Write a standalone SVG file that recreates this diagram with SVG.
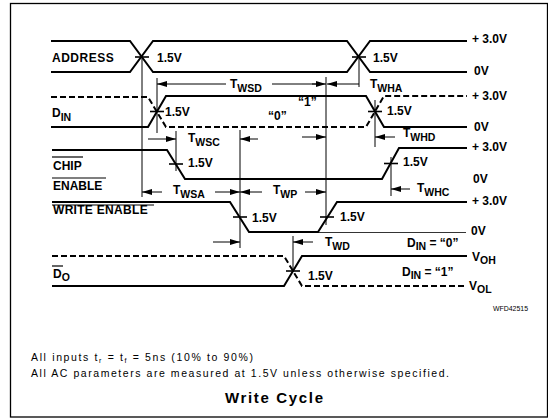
<svg xmlns="http://www.w3.org/2000/svg" width="548" height="420" viewBox="0 0 548 420">
<defs>
<marker id="ah" viewBox="0 0 10 6" refX="10" refY="3" markerWidth="10" markerHeight="6" markerUnits="userSpaceOnUse" orient="auto-start-reverse">
<path d="M0,0 L10,3 L0,6 Z" fill="#000"/>
</marker>
</defs>
<style>
text{font-family:"Liberation Sans",Arial,sans-serif;fill:#000}
.lb{font-weight:bold;font-size:12px}
.sub{font-size:10.5px}
.sig{fill:none;stroke:#000;stroke-width:2}
.dash{fill:none;stroke:#000;stroke-width:2;stroke-dasharray:6 3}
.ref{fill:none;stroke:#000;stroke-width:0.8}
.tick{stroke:#000;stroke-width:1.6}
.vl{stroke:#000;stroke-width:1}
.ar{stroke:#000;stroke-width:1;fill:none;marker-end:url(#ah)}
.ol{stroke:#000;stroke-width:1.2}
.note{font-size:10.5px}
</style>
<rect x="10.5" y="3.5" width="537" height="413.5" fill="#fff" stroke="#000" stroke-width="1.3"/>

<g id="address">
<path class="sig" d="M51,41 H130 L153,72 H347 L370,41 H467"/>
<path class="sig" d="M51,72 H130 L153,41 H347 L370,72 H467"/>
<line class="tick" x1="135" y1="57" x2="149" y2="57"/>
<line class="tick" x1="352" y1="57" x2="366" y2="57"/>
<text class="lb" x="52" y="62" letter-spacing="0.5">ADDRESS</text>
<text class="lb" x="157" y="62">1.5V</text>
<text class="lb" x="373" y="62">1.5V</text>
<text class="lb" x="472" y="43">+ 3.0V</text>
<text class="lb" x="474" y="75">0V</text>
</g>

<g id="din">
<path class="sig" d="M51,127 H148 L166,96 H366 L384,127 H467"/>
<path class="dash" d="M51,97 H148 L166,127 H366 L384,96 H467"/>
<line class="tick" x1="150" y1="111.5" x2="164" y2="111.5"/>
<line class="tick" x1="368" y1="111.5" x2="382" y2="111.5"/>
<text class="lb" x="52" y="117">D<tspan class="sub" dy="4">IN</tspan></text>
<text class="lb" x="165" y="116">1.5V</text>
<text class="lb" x="387" y="115">1.5V</text>
<text class="lb" x="268" y="120">“0”</text>
<text class="lb" x="298" y="106">“1”</text>
<text class="lb" x="472" y="100">+ 3.0V</text>
<text class="lb" x="474" y="131">0V</text>
</g>

<g id="chip-enable">
<path class="sig" d="M52,150 H167 L185,179 H382 L399,148 H467"/>
<line class="tick" x1="169" y1="164" x2="183" y2="164"/>
<line class="tick" x1="384" y1="163.5" x2="398" y2="163.5"/>
<text class="lb" x="53" y="170">CHIP</text>
<line class="ol" x1="52" y1="157" x2="83" y2="157"/>
<text class="lb" x="53" y="190">ENABLE</text>
<line class="ol" x1="52" y1="178" x2="106" y2="178"/>
<text class="lb" x="188" y="167">1.5V</text>
<text class="lb" x="403" y="166">1.5V</text>
<text class="lb" x="472" y="151">+ 3.0V</text>
<text class="lb" x="473" y="183">0V</text>
</g>

<g id="write-enable">
<path class="sig" d="M52,202 H230 L249,232 H318 L337,202 H467"/>
<path class="ref" d="M318,232.5 H466"/>
<line class="tick" x1="233" y1="217" x2="247" y2="217"/>
<line class="tick" x1="320" y1="217" x2="334" y2="217"/>
<text class="lb" x="53" y="214" letter-spacing="0.3">WRITE ENABLE</text>
<line class="ol" x1="52" y1="205" x2="154" y2="205"/>
<text class="lb" x="252" y="222">1.5V</text>
<text class="lb" x="340" y="221">1.5V</text>
<text class="lb" x="472" y="205">+ 3.0V</text>
<text class="lb" x="471" y="235">0V</text>
<text class="lb" x="407" y="247">D<tspan class="sub" dy="3">IN</tspan><tspan dy="-3"> = “0”</tspan></text>
</g>

<g id="dout">
<path class="sig" d="M52,286 H284 L302,256 H467"/>
<path class="dash" d="M52,256 H284 L302,286 H465"/>
<line class="tick" x1="286" y1="271" x2="300" y2="271"/>
<text class="lb" x="53" y="278">D<tspan class="sub" dy="3">O</tspan></text>
<line class="ol" x1="52" y1="266" x2="63" y2="266"/>
<text class="lb" x="308" y="280">1.5V</text>
<text class="lb" x="472" y="261">V<tspan class="sub" dy="3">OH</tspan></text>
<text class="lb" x="402" y="276">D<tspan class="sub" dy="3">IN</tspan><tspan dy="-3"> = “1”</tspan></text>
<text class="lb" x="469" y="290">V<tspan class="sub" dy="3">OL</tspan></text>
</g>

<g id="connectors">
<line class="vl" x1="142" y1="57" x2="142" y2="197"/>
<line class="vl" x1="157" y1="78" x2="157" y2="133"/>
<line class="vl" x1="326" y1="77" x2="326" y2="225"/>
<line class="vl" x1="359" y1="57" x2="359" y2="87"/>
<line class="vl" x1="375" y1="100" x2="375" y2="147"/>
<line class="vl" x1="176" y1="131" x2="176" y2="171"/>
<line class="vl" x1="240" y1="130" x2="240" y2="248"/>
<line class="vl" x1="391" y1="157" x2="391" y2="196"/>
<line class="vl" x1="293" y1="236" x2="293" y2="272"/>

<line class="ar" x1="170" y1="84" x2="157" y2="84"/>
<line class="vl" x1="170" y1="84" x2="226" y2="84"/>
<line class="vl" x1="272" y1="84" x2="316" y2="84"/>
<line class="ar" x1="312" y1="84" x2="326" y2="84"/>
<line class="ar" x1="359" y1="84" x2="327" y2="84"/>

<line class="ar" x1="148" y1="139" x2="176" y2="139"/>
<line class="ar" x1="258" y1="139" x2="240" y2="139"/>
<line class="ar" x1="302" y1="137" x2="326" y2="137"/>
<line class="ar" x1="395" y1="137" x2="375" y2="137"/>

<line class="ar" x1="162" y1="192" x2="142" y2="192"/>
<line class="ar" x1="215" y1="192" x2="240" y2="192"/>
<line class="ar" x1="262" y1="192" x2="240" y2="192"/>
<line class="ar" x1="305" y1="192" x2="326" y2="192"/>
<line class="ar" x1="410" y1="189" x2="391" y2="189"/>

<line class="ar" x1="213" y1="242" x2="240" y2="242"/>
<line class="ar" x1="313" y1="242" x2="293" y2="242"/>

<text class="lb" x="230" y="88">T<tspan class="sub" dy="4">WSD</tspan></text>
<text class="lb" x="370" y="88">T<tspan class="sub" dy="4">WHA</tspan></text>
<text class="lb" x="188" y="142">T<tspan class="sub" dy="4">WSC</tspan></text>
<text class="lb" x="403" y="137">T<tspan class="sub" dy="4">WHD</tspan></text>
<text class="lb" x="173" y="194">T<tspan class="sub" dy="4">WSA</tspan></text>
<text class="lb" x="273" y="194">T<tspan class="sub" dy="4">WP</tspan></text>
<text class="lb" x="417" y="192">T<tspan class="sub" dy="4">WHC</tspan></text>
<text class="lb" x="325" y="246">T<tspan class="sub" dy="4">WD</tspan></text>
</g>

<g id="notes">
<text x="493" y="311" font-size="7" textLength="35" lengthAdjust="spacingAndGlyphs">WFD42515</text>
<text class="note" x="31" y="361" textLength="222" lengthAdjust="spacing">All inputs t<tspan font-size="7" dy="2">r</tspan><tspan dy="-2"> = t</tspan><tspan font-size="7" dy="2">f</tspan><tspan dy="-2"> = 5ns (10% to 90%)</tspan></text>
<text class="note" x="31" y="377" textLength="418" lengthAdjust="spacing">All AC parameters are measured at 1.5V unless otherwise specified.</text>
<text x="225" y="403" font-size="15" font-weight="bold" textLength="98" lengthAdjust="spacing">Write Cycle</text>
</g>
</svg>
